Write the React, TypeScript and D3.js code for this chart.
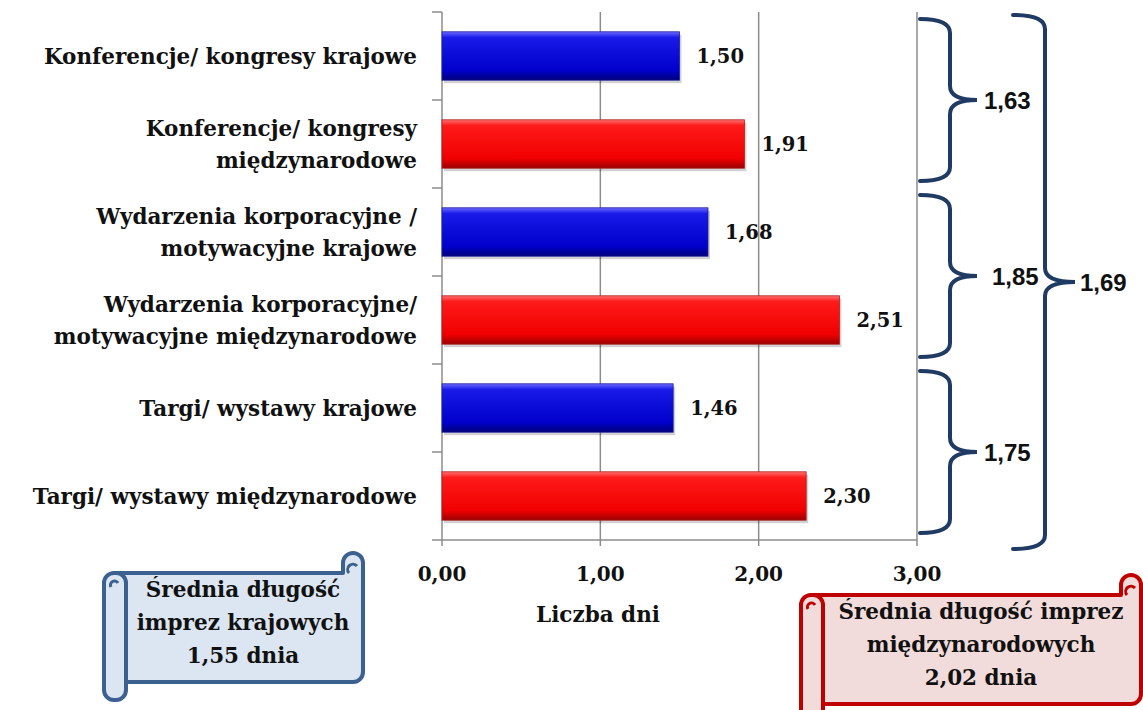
import * as d3 from 'd3';

const categories: string[][] = [
	['Konferencje/ kongresy krajowe'],
	['Konferencje/ kongresy', 'międzynarodowe'],
	['Wydarzenia korporacyjne /', 'motywacyjne krajowe'],
	['Wydarzenia korporacyjne/', 'motywacyjne międzynarodowe'],
	['Targi/ wystawy krajowe'],
	['Targi/ wystawy międzynarodowe'],
];
const scopes = ['krajowe', 'międzynarodowe', 'krajowe', 'międzynarodowe', 'krajowe', 'międzynarodowe'];
const values = [1.5, 1.91, 1.68, 2.51, 1.46, 2.3];
const xTicks = [0, 1, 2, 3];
const groupAverages = [1.63, 1.85, 1.75];
const overallAverage = 1.69;
const domesticAverage = 1.55;
const internationalAverage = 2.02;

const serif = '"DejaVu Serif", serif';
const sans = '"Liberation Sans", Arial, sans-serif';
const braceColor = '#1f3a63';
const FS = 21.5;
const NUM_FS = 19.5;

const fmt = (v: number) => d3.format('.2f')(v).replace('.', ',');

// curly brace opening to the left, tip pointing right
function bracePath(x0: number, y0: number, y1: number, xm: number, tip: number) {
	const ym = (y0 + y1) / 2;
	const r = 14;
	return `M${x0},${y0} Q${xm},${y0} ${xm},${y0 + r} L${xm},${ym - r} Q${xm},${ym} ${tip},${ym} Q${xm},${ym} ${xm},${ym + r} L${xm},${y1 - r} Q${xm},${y1} ${x0},${y1}`;
}

function Scroll({ L, R, T, B, fill, stroke, lines, cx, y0 }: {
	L: number; R: number; T: number; B: number; fill: string; stroke: string; lines: string[]; cx: number; y0: number;
}) {
	const ch = 20;
	const h = ch / 2;
	const bodyBottom = B - ch + 2;
	const body = `M${L + h},${T + ch} L${R - ch},${T + ch} L${R - ch},${T + h} A${h},${h} 0 0 1 ${R},${T + h} L${R},${bodyBottom - h} A${h},${h} 0 0 1 ${R - h},${bodyBottom} L${L + h},${bodyBottom} Z`;
	return (
		<g>
			<path d={body} fill={fill} stroke={stroke} strokeWidth={4} strokeLinejoin="round" />
			<path d={`M${R - h - 4},${T + ch} A4,4 0 1 1 ${R - h + 4},${T + h + 3}`} fill="none" stroke={stroke} strokeWidth={3} />
			<rect x={L} y={T + ch} width={ch + 2} height={B - T - ch} rx={h} fill={fill} stroke={stroke} strokeWidth={4} />
			<path d={`M${L + h - 3},${T + ch + h + 4} A4,4 0 1 1 ${L + h + 4},${T + ch + h}`} fill="none" stroke={stroke} strokeWidth={3} />
			{lines.map((t, i) => (
				<text key={i} x={cx} y={y0 + i * 33} textAnchor="middle" fontFamily={serif} fontWeight="bold" fontSize={FS} fill="#111">
					{t}
				</text>
			))}
		</g>
	);
}

export default function App() {
	const top = 12;
	const bottom = 540;
	const x = d3.scaleLinear().domain([0, 3]).range([442, 917]);
	const y = d3
		.scaleBand<number>()
		.domain(d3.range(categories.length))
		.range([top, bottom])
		.paddingInner(0.45)
		.paddingOuter(0.225);
	const step = y.step();
	const bandTop = (i: number) => top + i * step;

	const groups = groupAverages.map((v, g) => ({ v, y0: bandTop(g * 2) + 7, y1: bandTop(g * 2 + 2) - 7 }));

	return (
		<svg width={1143} height={710} style={{ position: 'absolute', left: 0, top: 0, background: '#fff' }}>
			<defs>
				<linearGradient id="gBlue" x1="0" y1="0" x2="0" y2="1">
					<stop offset="0" stopColor="#6a6aff" />
					<stop offset="0.12" stopColor="#1a1ae8" />
					<stop offset="0.8" stopColor="#0000cc" />
					<stop offset="1" stopColor="#00007a" />
				</linearGradient>
				<linearGradient id="gRed" x1="0" y1="0" x2="0" y2="1">
					<stop offset="0" stopColor="#ff7070" />
					<stop offset="0.12" stopColor="#ff1a1a" />
					<stop offset="0.8" stopColor="#f00000" />
					<stop offset="1" stopColor="#9a0000" />
				</linearGradient>
			</defs>

			{/* gridlines */}
			{xTicks.slice(1).map(t => (
				<line key={t} x1={x(t)} x2={x(t)} y1={top} y2={bottom} stroke="#8c8c8c" strokeWidth={1.5} />
			))}
			<line x1={x(0)} x2={x(0)} y1={top} y2={bottom} stroke="#8c8c8c" strokeWidth={1.5} />
			<line x1={x(0)} x2={x(3)} y1={bottom} y2={bottom} stroke="#8c8c8c" strokeWidth={1.5} />
			{d3.range(categories.length + 1).map(i => (
				<line key={i} x1={x(0) - 10} x2={x(0)} y1={bandTop(i)} y2={bandTop(i)} stroke="#8c8c8c" strokeWidth={1.5} />
			))}
			{xTicks.map(t => (
				<g key={t}>
					<line x1={x(t)} x2={x(t)} y1={bottom} y2={bottom + 6} stroke="#8c8c8c" strokeWidth={1.5} />
					<text x={x(t)} y={bottom + 41} textAnchor="middle" fontFamily={serif} fontWeight="bold" fontSize={20} fill="#111">
						{fmt(t)}
					</text>
				</g>
			))}
			<text x={598} y={622} textAnchor="middle" fontFamily={serif} fontWeight="bold" fontSize={FS} fill="#111">
				Liczba dni
			</text>

			{/* bars */}
			{values.map((v, i) => {
				const by = y(i)!;
				const bh = y.bandwidth();
				return (
					<g key={i}>
						<rect x={x(0) + 2} y={by + 3} width={x(v) - x(0)} height={bh} fill="#000" opacity={0.18} />
						<rect x={x(0)} y={by} width={x(v) - x(0)} height={bh} fill={scopes[i] === 'krajowe' ? 'url(#gBlue)' : 'url(#gRed)'} stroke={scopes[i] === 'krajowe' ? '#2020a0' : '#b02020'} strokeWidth={0.8} />
						<text x={x(v) + 17} y={by + bh / 2} dy="0.35em" fontFamily={serif} fontWeight="bold" fontSize={NUM_FS} fill="#111">
							{fmt(v)}
						</text>
					</g>
				);
			})}

			{/* category labels */}
			{categories.map((lines, i) => {
				const cy = y(i)! + y.bandwidth() / 2;
				return (
					<text key={i} x={417} textAnchor="end" fontFamily={serif} fontWeight="bold" fontSize={FS} fill="#111">
						{lines.map((l, k) => (
							<tspan key={k} x={417} y={cy + (k - (lines.length - 1) / 2) * 32} dy="0.35em">
								{l}
							</tspan>
						))}
					</text>
				);
			})}

			{/* braces */}
			{groups.map((g, k) => (
				<g key={k}>
					<path d={bracePath(920, g.y0, g.y1, 950, 977)} fill="none" stroke={braceColor} strokeWidth={4} strokeLinecap="round" />
					<text x={k === 1 ? 992 : 984} y={(g.y0 + g.y1) / 2} dy="0.36em" fontFamily={sans} fontWeight="bold" fontSize={24} fill="#111">
						{fmt(g.v)}
					</text>
				</g>
			))}
			<path d={bracePath(1013, 15, 549, 1045, 1075)} fill="none" stroke={braceColor} strokeWidth={4} strokeLinecap="round" />
			<text x={1080} y={282} dy="0.36em" fontFamily={sans} fontWeight="bold" fontSize={24} fill="#111">
				{fmt(overallAverage)}
			</text>

			{/* average scrolls */}
			<Scroll
				L={104}
				R={363}
				T={553}
				B={700}
				fill="#dce6f2"
				stroke="#3c6090"
				cx={243}
				y0={597}
				lines={['Średnia długość', 'imprez krajowych', `${fmt(domesticAverage)} dnia`]}
			/>
			<Scroll
				L={801}
				R={1141}
				T={575}
				B={722}
				fill="#f2dcdb"
				stroke="#c00000"
				cx={981}
				y0={619}
				lines={['Średnia długość imprez', 'międzynarodowych', `${fmt(internationalAverage)} dnia`]}
			/>
		</svg>
	);
}
